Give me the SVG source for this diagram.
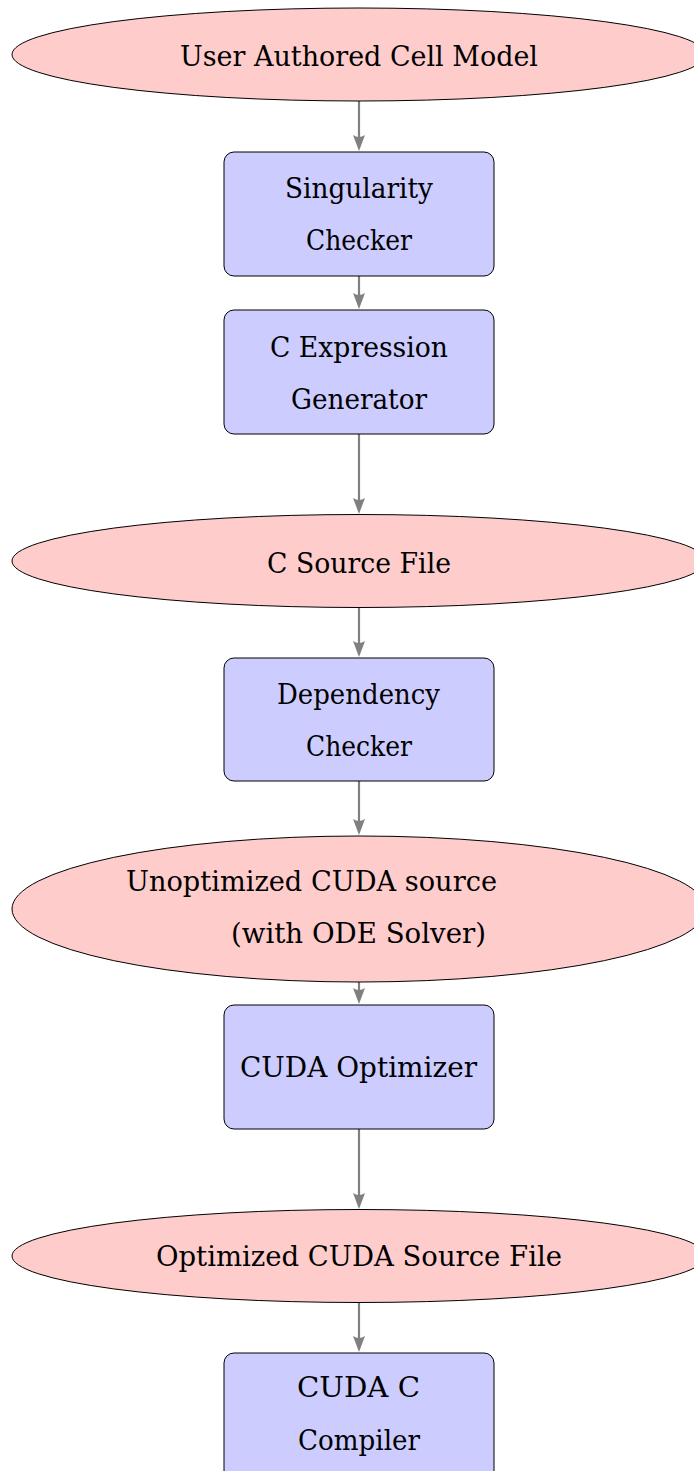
<svg xmlns="http://www.w3.org/2000/svg" width="694" height="1471" viewBox="0 0 694 1471">
  <style>
    .ell { fill: #ffcccc; stroke: #000; stroke-width: 1; }
    .box { fill: #ccccff; stroke: #000; stroke-width: 1; }
    .edge { stroke: #808080; stroke-width: 2.2; fill: none; marker-end: url(#arr); }
    text { font-family: "DejaVu Serif", serif; font-size: 27px; fill: #000; }
  </style>
  <defs>
    <marker id="arr" viewBox="0 -6 16 12" markerWidth="16" markerHeight="12" refX="10" refY="0" orient="auto" markerUnits="userSpaceOnUse">
      <path d="M16,0 L0,-6 Q4,0 0,6 Z" fill="#808080"/>
    </marker>
  </defs>
  <rect width="694" height="1471" fill="#fff"/>

  <g id="connectors">
    <line class="edge" x1="359" y1="101" x2="359" y2="145"/>
    <line class="edge" x1="359" y1="276" x2="359" y2="303"/>
    <line class="edge" x1="359" y1="434" x2="359" y2="508"/>
    <line class="edge" x1="359" y1="607" x2="359" y2="651"/>
    <line class="edge" x1="359" y1="781" x2="359" y2="829"/>
    <line class="edge" x1="359" y1="982" x2="359" y2="998"/>
    <line class="edge" x1="359" y1="1129" x2="359" y2="1203"/>
    <line class="edge" x1="359" y1="1302" x2="359" y2="1346"/>
  </g>

  <g id="n1">
    <ellipse class="ell" cx="359" cy="54.5" rx="347" ry="46.5"/>
    <text x="180" y="66" textLength="358" lengthAdjust="spacingAndGlyphs">User Authored Cell Model</text>
  </g>
  <g id="n2">
    <rect class="box" x="224" y="152" width="270" height="124" rx="10"/>
    <text x="285" y="198" textLength="148" lengthAdjust="spacingAndGlyphs">Singularity</text>
    <text x="306" y="250" textLength="106" lengthAdjust="spacingAndGlyphs">Checker</text>
  </g>
  <g id="n3">
    <rect class="box" x="224" y="310" width="270" height="124" rx="10"/>
    <text x="270" y="357" textLength="178" lengthAdjust="spacingAndGlyphs">C Expression</text>
    <text x="291" y="409" textLength="136" lengthAdjust="spacingAndGlyphs">Generator</text>
  </g>
  <g id="n4">
    <ellipse class="ell" cx="359" cy="561" rx="347" ry="46.5"/>
    <text x="267" y="573" textLength="184" lengthAdjust="spacingAndGlyphs">C Source File</text>
  </g>
  <g id="n5">
    <rect class="box" x="224" y="658" width="270" height="123" rx="10"/>
    <text x="277" y="704" textLength="163" lengthAdjust="spacingAndGlyphs">Dependency</text>
    <text x="306" y="756" textLength="106" lengthAdjust="spacingAndGlyphs">Checker</text>
  </g>
  <g id="n6">
    <ellipse class="ell" cx="359" cy="909" rx="347" ry="73"/>
    <text x="126" y="891" textLength="371" lengthAdjust="spacingAndGlyphs">Unoptimized CUDA source</text>
    <text x="231" y="943" textLength="255" lengthAdjust="spacingAndGlyphs">(with ODE Solver)</text>
  </g>
  <g id="n7">
    <rect class="box" x="224" y="1005" width="270" height="124" rx="10"/>
    <text x="240" y="1077" textLength="237" lengthAdjust="spacingAndGlyphs">CUDA Optimizer</text>
  </g>
  <g id="n8">
    <ellipse class="ell" cx="359" cy="1256" rx="347" ry="46.5"/>
    <text x="156" y="1266" textLength="406" lengthAdjust="spacingAndGlyphs">Optimized CUDA Source File</text>
  </g>
  <g id="n9">
    <rect class="box" x="224" y="1353" width="270" height="130" rx="10"/>
    <text x="297" y="1397" textLength="123" lengthAdjust="spacingAndGlyphs">CUDA C</text>
    <text x="298" y="1450" textLength="122" lengthAdjust="spacingAndGlyphs">Compiler</text>
  </g>
</svg>
